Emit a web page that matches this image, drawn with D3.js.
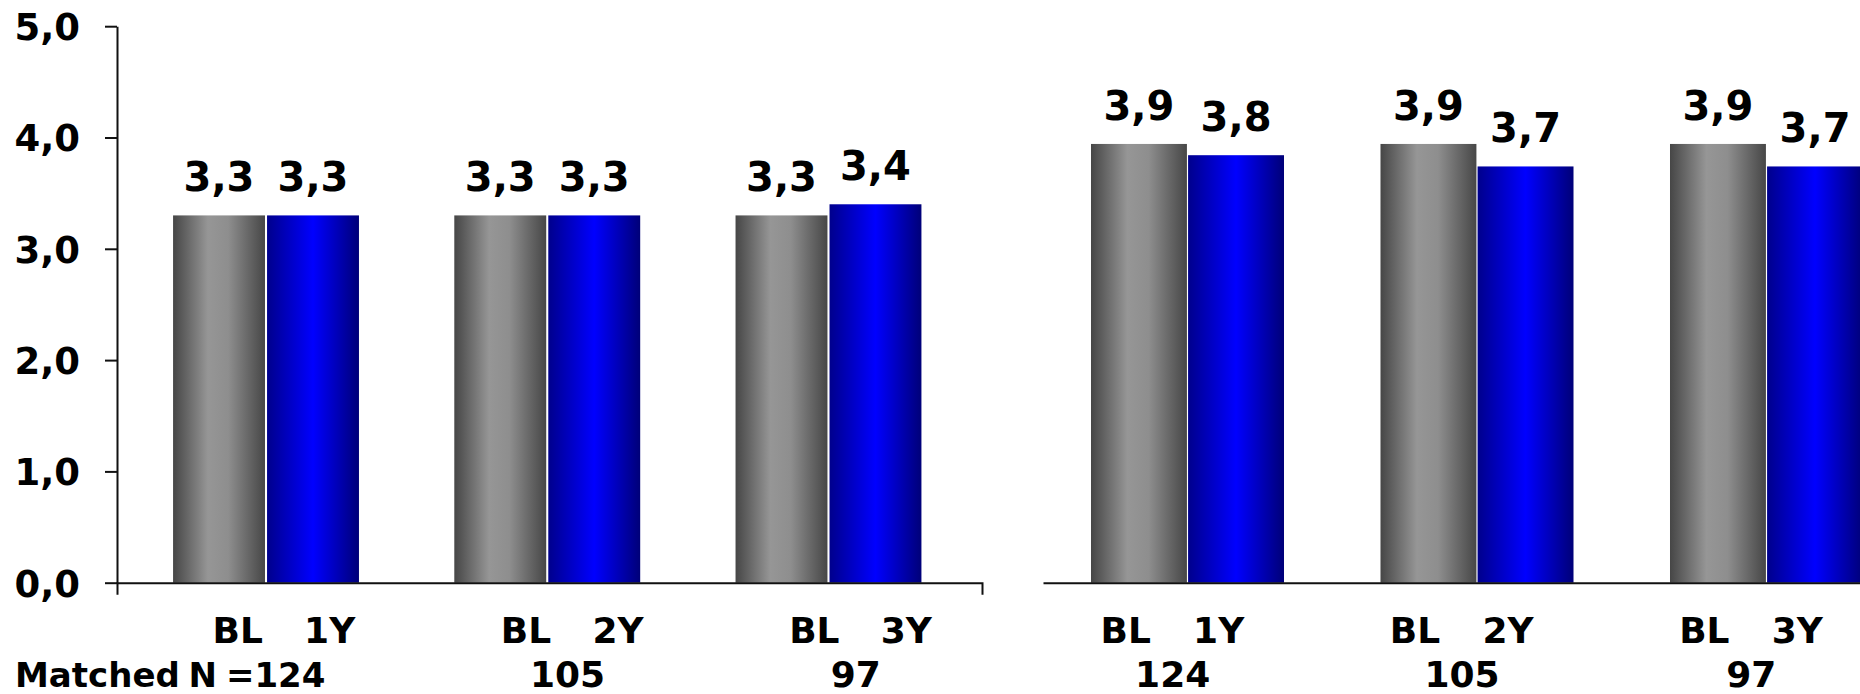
<!DOCTYPE html>
<html>
<head>
<meta charset="utf-8">
<script src="https://cdn.jsdelivr.net/npm/d3@7"></script>
<style>
  html, body { margin: 0; padding: 0; background: #fff; }
  svg { display: block; font-family: "DejaVu Sans", Verdana, sans-serif; font-weight: bold; }
</style>
</head>
<body>
<svg id="chart" width="1860" height="694"></svg>
<script>
// Mean scores at baseline (BL) and follow-up, for matched patients
const periods = ["1Y", "2Y", "3Y"];
const baselineLabel = "BL";
const matchedN = [124, 105, 97];
const leftBaseline = [3.3, 3.3, 3.3];
const leftFollowUp = [3.3, 3.3, 3.4];
const rightBaseline = [3.9, 3.9, 3.9];
const rightFollowUp = [3.8, 3.7, 3.7];
const yTicks = [0, 1, 2, 3, 4, 5];

const fmt = v => d3.format(".1f")(v).replace(".", ",");
const svg = d3.select("#chart");

// bar gradients: grey cylinder for baseline, blue for follow-up
const defs = svg.append("defs");
function gradient(id, stops) {
  const g = defs.append("linearGradient").attr("id", id)
    .attr("x1", "0").attr("x2", "1").attr("y1", "0").attr("y2", "0");
  stops.forEach(([o, c]) => g.append("stop").attr("offset", o).attr("stop-color", c));
}
gradient("gradGrey", [[0, "#464646"], [0.38, "#969696"], [0.6, "#8e8e8e"], [1, "#474747"]]);
gradient("gradBlue", [[0, "#00008c"], [0.5, "#0000ff"], [1, "#000078"]]);

const baseY = 582.7;

function panel(cfg) {
  const g = svg.append("g");
  const y = d3.scaleLinear().domain([0, 5]).range([baseY, cfg.yTop]);
  const xAxisScale = d3.scaleBand().domain(periods).range(cfg.axisRange);
  const x0 = d3.scaleBand().domain(periods).range(cfg.barRange)
    .paddingInner(cfg.pad).paddingOuter(cfg.pad / 2);
  const x1 = d3.scaleBand().domain(["bl", "fu"]).range([0, x0.bandwidth()]).paddingInner(cfg.gap);

  const rows = periods.map((p, i) => ({
    period: p,
    values: [
      { key: "bl", label: baselineLabel, v: cfg.bl[i], fill: "url(#gradGrey)" },
      { key: "fu", label: p, v: cfg.fu[i], fill: "url(#gradBlue)" }
    ]
  }));

  const grp = g.selectAll("g.grp").data(rows).join("g")
    .attr("class", "grp")
    .attr("transform", d => `translate(${x0(d.period)},0)`);

  grp.selectAll("rect").data(d => d.values).join("rect")
    .attr("x", d => x1(d.key))
    .attr("width", x1.bandwidth())
    .attr("y", d => y(d.v))
    .attr("height", d => y(0) - y(d.v))
    .attr("fill", d => d.fill);

  grp.selectAll("text.val").data(d => d.values).join("text")
    .attr("class", "val")
    .attr("x", d => x1(d.key) + x1.bandwidth() / 2)
    .attr("y", d => y(d.v) - 24)
    .attr("text-anchor", "middle")
    .attr("font-size", 40)
    .text(d => fmt(d.v));

  // x axis line
  const xAxis = d3.axisBottom(xAxisScale).tickSizeInner(0).tickSizeOuter(cfg.outerTick).tickFormat(() => "");
  const ax = g.append("g").attr("transform", `translate(0,${baseY})`).call(xAxis);
  ax.select(".domain").attr("stroke", "#111").attr("stroke-width", 2);
  ax.selectAll(".tick").remove();

  // category labels under the axis
  const lab = g.append("g").attr("font-size", 36).attr("text-anchor", "middle");
  periods.forEach((p, i) => {
    const c = xAxisScale(p) + xAxisScale.bandwidth() / 2;
    lab.append("text").attr("x", c + cfg.blOff).attr("y", 643).text(baselineLabel);
    lab.append("text").attr("x", c + cfg.fuOff).attr("y", 643).text(p);
    if (cfg.matchedText && i === 0) {
      lab.append("text").attr("x", 15).attr("y", 687).attr("text-anchor", "start")
        .attr("font-size", 34).attr("word-spacing", -3)
        .text(cfg.matchedText + matchedN[i]);
    } else {
      lab.append("text").attr("x", c + cfg.nOff).attr("y", 687).text(matchedN[i]);
    }
  });
  return y;
}

const yLeft = panel({
  yTop: 26.2, axisRange: [117, 982], barRange: [125.4, 969.1], pad: 0.339, gap: 0.022,
  bl: leftBaseline, fu: leftFollowUp, outerTick: 12,
  blOff: -23.5, fuOff: 68.5, nOff: 18, matchedText: "Matched N ="
});

panel({
  yTop: 20.2, axisRange: [1043, 1911], barRange: [1042.75, 1911.25], pad: 0.3333, gap: 0.012,
  bl: rightBaseline, fu: rightFollowUp, outerTick: 0,
  blOff: -62, fuOff: 31, nOff: -15, matchedText: null
});

// value axis of the left panel
const yAxis = d3.axisLeft(yLeft).tickValues(yTicks).tickSizeInner(12).tickSizeOuter(0)
  .tickPadding(25).tickFormat(fmt);
const ya = svg.append("g").attr("transform", "translate(117,0)").call(yAxis);
ya.select(".domain").attr("stroke", "#111").attr("stroke-width", 2);
ya.selectAll(".tick line").attr("stroke", "#111").attr("stroke-width", 2);
ya.selectAll(".tick text").attr("font-size", 37).attr("font-family", "DejaVu Sans, sans-serif")
  .attr("font-weight", "bold").attr("fill", "#000").attr("dy", "0.36em");
</script>
</body>
</html>
